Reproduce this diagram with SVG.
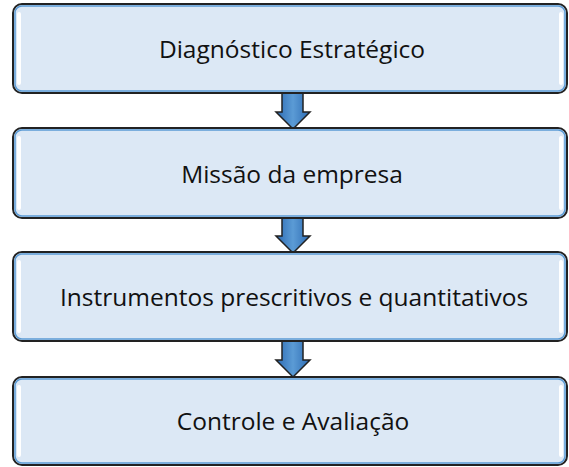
<svg xmlns="http://www.w3.org/2000/svg" width="569" height="467" viewBox="0 0 569 467">
<style>
.box{fill:#dce8f5;stroke:#222;stroke-width:2}
.inner{fill:none;stroke:#5b9bd5;stroke-width:1.5}
.hl{fill:none;stroke:#fff;stroke-width:4;stroke-linecap:round}
.lbl{font-family:"Open Sans","Liberation Sans",sans-serif;font-size:24.5px;fill:#111;text-anchor:middle;dominant-baseline:central}
.arr{fill:url(#ag);stroke:#222;stroke-width:1.5;stroke-linejoin:miter}
</style>
<defs>
<linearGradient id="ag" x1="0" y1="0" x2="1" y2="0">
<stop offset="0" stop-color="#2d6bb3"/>
<stop offset="0.5" stop-color="#5b9bd5"/>
<stop offset="1" stop-color="#2d6bb3"/>
</linearGradient>
</defs>
<g id="connectors">
<path class="arr" d="M282,92 H303 V112 H310 L293,129 L276,112 H282 Z"/>
<path class="arr" d="M282,217 H303 V236 H310 L293,253 L276,236 H282 Z"/>
<path class="arr" d="M282,341 H303 V360 H310 L293,377 L276,360 H282 Z"/>
</g>
<g id="n1">
<rect class="box" x="13" y="4" width="554" height="89" rx="9"/>
<rect class="inner" x="15" y="6" width="550" height="85" rx="7"/>
<path class="hl" d="M19,14 V83 M561,14 V83"/>
<text class="lbl" x="292" y="48">Diagnóstico Estratégico</text>
</g>
<g id="n2">
<rect class="box" x="13" y="128" width="554" height="90" rx="9"/>
<rect class="inner" x="15" y="130" width="550" height="86" rx="7"/>
<path class="hl" d="M19,138 V208 M561,138 V208"/>
<text class="lbl" x="292" y="173">Missão da empresa</text>
</g>
<g id="n3">
<rect class="box" x="13" y="252" width="554" height="89" rx="9"/>
<rect class="inner" x="15" y="254" width="550" height="85" rx="7"/>
<path class="hl" d="M19,262 V331 M561,262 V331"/>
<text class="lbl" x="294" y="296">Instrumentos prescritivos e quantitativos</text>
</g>
<g id="n4">
<rect class="box" x="13" y="377" width="554" height="88" rx="9"/>
<rect class="inner" x="15" y="379" width="550" height="84" rx="7"/>
<path class="hl" d="M19,387 V455 M561,387 V455"/>
<text class="lbl" x="293" y="420">Controle e Avaliação</text>
</g>
</svg>
